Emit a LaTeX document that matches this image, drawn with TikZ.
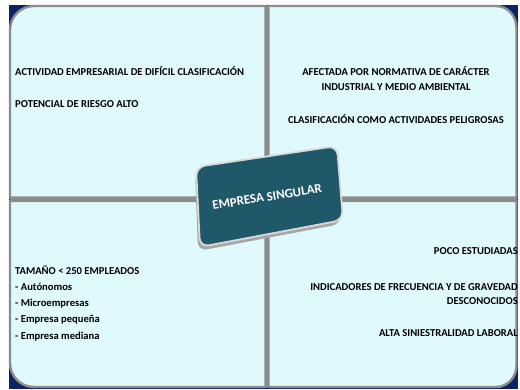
\documentclass[tikz,border=0pt]{standalone}
\usepackage{fontspec}
\setmainfont{Carlito}
\definecolor{navy}{RGB}{10,35,100}
\definecolor{panelfill}{RGB}{224,249,253}
\definecolor{panelborder}{RGB}{140,140,140}
\definecolor{teal}{RGB}{31,88,104}
\tikzset{
  panel/.style={fill=panelfill, draw=panelborder, line width=2.4pt},
  txt/.style={inner sep=0pt, font=\bfseries\fontsize{10.6}{12}\selectfont, text=black},
  divider/.style={fill=panelborder},
}
\begin{document}
\begin{tikzpicture}[x=1pt,y=-1pt]
\useasboundingbox (0,0) rectangle (520,389);
\fill[white] (0,0) rectangle (520,389);
\fill[navy] (8.8,4.8) rectangle (517.6,389);
% dividers
\fill[divider] (10,197) rectangle (516.5,201.5);
\fill[divider] (265,6) rectangle (269,387);
% panels
\path[panel] (10,197.5) -- (10,30) .. controls (10,16.7) and (20.7,6) .. (34,6) -- (265.5,6) -- (265.5,197.5) -- cycle;
\path[panel] (268.5,197.5) -- (268.5,6) -- (496,6) .. controls (507.6,6) and (516.5,15.85) .. (516.5,28) -- (516.5,197.5) -- cycle;
\path[panel] (10,201) -- (265.5,201) -- (265.5,387) -- (34,387) .. controls (20.7,387) and (10,376.3) .. (10,363) -- cycle;
\path[panel] (268.5,201) -- (516.5,201) -- (516.5,366) .. controls (516.5,377.3) and (507.3,387) .. (496,387) -- (268.5,387) -- cycle;
% central box
\fill[black!35, rounded corners=9pt] (195,172) -- (335,151) -- (341,224) -- (198,251) -- cycle;
\path[fill=teal, draw=black!15, line width=1.8pt, rounded corners=9pt] (196,167) -- (337,146) -- (343,220) -- (200,247) -- cycle;
\node[inner sep=0pt, rotate=9, text=white, font=\bfseries\fontsize{13}{15}\selectfont] (center) at (267,197) {EMPRESA SINGULAR};
% top-left texts
\node[txt, anchor=west] (tl1) at (15,71) {ACTIVIDAD EMPRESARIAL DE DIFÍCIL CLASIFICACIÓN};
\node[txt, anchor=west] (tl2) at (15,104) {POTENCIAL DE RIESGO ALTO};
% top-right texts
\node[txt] (tr1) at (396,71) {AFECTADA POR NORMATIVA DE CARÁCTER};
\node[txt] (tr2) at (396,87.5) {INDUSTRIAL Y MEDIO AMBIENTAL};
\node[txt] (tr3) at (396,119) {CLASIFICACIÓN COMO ACTIVIDADES PELIGROSAS};
% bottom-left texts
\node[txt, anchor=west] (bl1) at (15,270.5) {TAMAÑO < 250 EMPLEADOS};
\node[txt, anchor=west] (bl2) at (15,287) {- Autónomos};
\node[txt, anchor=west] (bl3) at (15,303.5) {- Microempresas};
\node[txt, anchor=west] (bl4) at (15,320) {- Empresa pequeña};
\node[txt, anchor=west] (bl5) at (15,336.5) {- Empresa mediana};
% bottom-right texts
\node[txt, anchor=east] (br1) at (518,251) {POCO ESTUDIADAS};
\node[txt, anchor=east] (br2) at (518,287.5) {INDICADORES DE FRECUENCIA Y DE GRAVEDAD};
\node[txt, anchor=east] (br3) at (518,301) {DESCONOCIDOS};
\node[txt, anchor=east] (br4) at (518,333) {ALTA SINIESTRALIDAD LABORAL};
\end{tikzpicture}
\end{document}
